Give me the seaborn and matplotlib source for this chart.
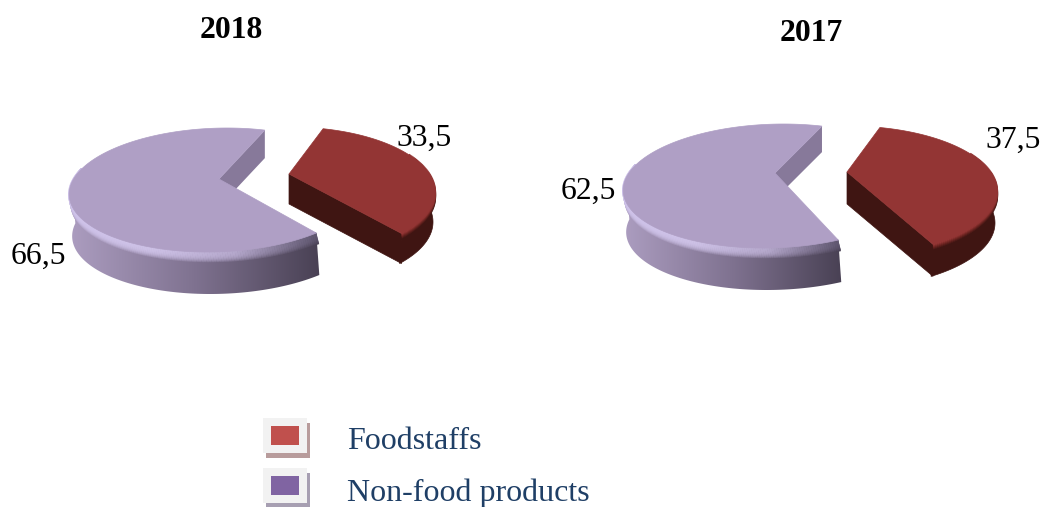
import numpy as np
import matplotlib
matplotlib.use("Agg")
import matplotlib.pyplot as plt
import matplotlib.colors as mcolors
from matplotlib.collections import LineCollection
from matplotlib.patches import Polygon, Rectangle
import seaborn as sns

years = ["2018", "2017"]
categories = ["Foodstaffs", "Non-food products"]
foodstaffs = [33.5, 37.5]
non_food = [66.5, 62.5]

W, H = 1043, 507
SERIF = "Liberation Serif"

# hand fitted projection of each slice: ellipse, apex, arc scale, wall depth
red_geom = [
    dict(cx=290, cy=192, rx=145, ry=65, s=0, apex=(289, 174), k=0.966, depth=26, bevel=4),
    dict(cx=848, cy=191, rx=149, ry=65, s=0, apex=(847, 172), k=0.984, depth=28, bevel=4),
]
red_start = [-39.7, -55.2]
purple_geom = [
    dict(cx=217, cy=190, rx=147.5, ry=62, s=10, apex=(219, 179), k=1.007, depth=32, bevel=10, cut=28),
    dict(cx=773.5, cy=186, rx=150, ry=62, s=10, apex=(775, 173), k=0.997, depth=32, bevel=10, cut=26),
]
purple_start = [75, 75]

wall_cmap = mcolors.LinearSegmentedColormap.from_list("wall", ["#AC9DC0", "#7F7290", "#494154"])
rim_cmap = mcolors.LinearSegmentedColormap.from_list("rim", ["#CFC3EA", "#CDC1E6", "#B5A8CC", "#5F566F"])


def arc(g, t):
    t = np.radians(t)
    return np.column_stack([
        g["cx"] + g["rx"] * np.cos(t) + g["s"] * np.sin(t),
        g["cy"] - g["ry"] * np.sin(t),
    ])


def gradient_wall(ax, pts, cmap):
    patch = Polygon(pts, closed=True, facecolor="none", edgecolor="none", zorder=2)
    ax.add_patch(patch)
    im = ax.imshow(
        np.linspace(0, 1, 256)[None, :],
        cmap=cmap,
        extent=(pts[:, 0].min(), pts[:, 0].max(), pts[:, 1].max(), pts[:, 1].min()),
        aspect="auto",
        interpolation="bilinear",
        zorder=2,
    )
    im.set_clip_path(patch)


def draw_purple(ax, g, t0, span):
    t1 = t0 + span * g["k"]
    d = g["depth"] + g["bevel"]
    apex = np.array(g["apex"], dtype=float)

    # cut face at the back of the gap
    end = arc(g, t0)[0]
    cut = np.array([apex, end, end + (0, g["cut"]), apex + (0, g["cut"])])
    ax.add_patch(Polygon(cut, closed=True, facecolor="#87799A", edgecolor="none", zorder=2))

    # outer wall
    t = np.linspace(172, t1, 120)
    top = arc(g, t)
    low = top + (3, d)
    gradient_wall(ax, np.vstack([top, low[::-1]]), wall_cmap)

    # rounded rim between top and wall, it narrows to nothing at the left end
    tt = np.linspace(160, t1, 160)
    pts = arc(g, tt)
    ramp = np.clip((tt - 160) / 30, 0, 1)[:, None]
    norm = (pts[:, 0] - pts[:, 0].min()) / np.ptp(pts[:, 0])
    for off in range(g["bevel"], -1, -1):
        seg_pts = pts + ramp * np.array([2.5 * off / g["bevel"], off])
        segs = np.stack([seg_pts[:-1], seg_pts[1:]], axis=1)
        c = np.array(rim_cmap(norm[:-1]))
        fade = off / g["bevel"]
        wall_c = np.array(wall_cmap(norm[:-1]))
        c = c * (1 - fade**3) + wall_c * fade**3
        ax.add_collection(LineCollection(segs, colors=c, linewidths=1.6, zorder=3))

    tt = np.linspace(t0, t1, 240)
    surface = np.vstack([apex, arc(g, tt)])
    ax.add_patch(Polygon(surface, closed=True, facecolor="#AF9FC5", edgecolor="#AF9FC5", lw=0.5, zorder=4))


def draw_red(ax, g, t0, span):
    t1 = t0 + span * g["k"]
    d = g["depth"] + g["bevel"]
    apex = np.array(g["apex"], dtype=float)
    dark = "#3F1512"

    end = arc(g, t0)[0]
    cut = np.array([apex, end, end + (0, d), apex + (0, d)])
    ax.add_patch(Polygon(cut, closed=True, facecolor=dark, edgecolor=dark, lw=0.5, zorder=2))

    t = np.linspace(t0, 12, 60)
    top = arc(g, t)
    low = top + (-2, d)
    ax.add_patch(Polygon(np.vstack([top, low[::-1]]), closed=True, facecolor=dark, edgecolor=dark, lw=0.5, zorder=2))

    # rim gets darker towards the wall
    tt = np.linspace(t0, 35, 90)
    pts = arc(g, tt)
    rim = mcolors.LinearSegmentedColormap.from_list("redrim", ["#933534", "#6A2320", dark])
    for off in range(5, -1, -1):
        seg_pts = pts + (0, off)
        segs = np.stack([seg_pts[:-1], seg_pts[1:]], axis=1)
        ax.add_collection(LineCollection(segs, colors=[rim(off / 5)], linewidths=1.6, zorder=3))

    tt = np.linspace(t0, t1, 120)
    surface = np.vstack([apex, arc(g, tt)])
    ax.add_patch(Polygon(surface, closed=True, facecolor="#933534", edgecolor="#933534", lw=0.5, zorder=4))


sns.set_theme(style="white")
fig = plt.figure(figsize=(W / 100, H / 100), dpi=100)
ax = fig.add_axes([0, 0, 1, 1])

for i, year in enumerate(years):
    # pie works out the slice angles, the 3D look is drawn on top of them
    wedges, _ = ax.pie([foodstaffs[i], non_food[i]], startangle=red_start[i], radius=1e-3)
    for w in wedges:
        w.set_visible(False)
    draw_purple(ax, purple_geom[i], purple_start[i], wedges[1].theta2 - wedges[1].theta1)
    draw_red(ax, red_geom[i], red_start[i], wedges[0].theta2 - wedges[0].theta1)

ax.set_aspect("auto")
ax.set_xlim(0, W)
ax.set_ylim(H, 0)
ax.axis("off")

txt = dict(family=SERIF, fontsize=22.8, color="black")
ax.text(231, 38, years[0], ha="center", va="baseline", fontweight="bold", **txt)
ax.text(811, 41, years[1], ha="center", va="baseline", fontweight="bold", **txt)

label_pos = [((396, 146), (11, 264)), ((985, 148), (561, 199))]
for i in range(2):
    for val, (x, y) in zip([foodstaffs[i], non_food[i]], label_pos[i]):
        ax.text(x, y, f"{val:.1f}".replace(".", ","), ha="left", va="baseline", zorder=6, **txt)

# legend
swatches = [("#C0504D", "#B89C9C", 418, 449), ("#8064A2", "#A79FB2", 468, 501)]
for name, (col, shadow, y, base) in zip(categories, swatches):
    ax.add_patch(Rectangle((266, y + 5), 44, 35, facecolor=shadow, edgecolor="none"))
    ax.add_patch(Rectangle((263, y), 44, 35, facecolor="#F2F2F2", edgecolor="none"))
    ax.add_patch(Rectangle((271, y + 8), 28, 19, facecolor=col, edgecolor="none"))
    ax.text(347, base, name, family=SERIF, fontsize=23, color="#1F3F66", ha="left", va="baseline")

fig.savefig("out.png", dpi=100, facecolor="white")
